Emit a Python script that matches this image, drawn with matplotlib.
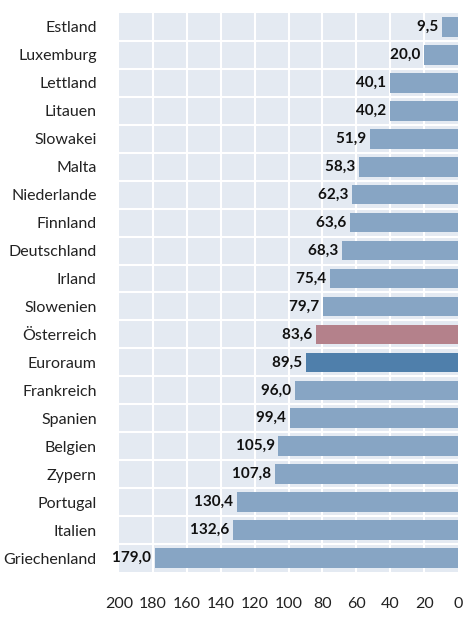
import matplotlib
matplotlib.use("Agg")
import matplotlib.pyplot as plt
import numpy as np

countries = ["Estland", "Luxemburg", "Lettland", "Litauen", "Slowakei", "Malta",
             "Niederlande", "Finnland", "Deutschland", "Irland", "Slowenien",
             "Österreich", "Euroraum", "Frankreich", "Spanien", "Belgien",
             "Zypern", "Portugal", "Italien", "Griechenland"]
values = [9.5, 20.0, 40.1, 40.2, 51.9, 58.3, 62.3, 63.6, 68.3, 75.4, 79.7,
          83.6, 89.5, 96.0, 99.4, 105.9, 107.8, 130.4, 132.6, 179.0]
xticks = [200, 180, 160, 140, 120, 100, 80, 60, 40, 20, 0]

base_color = "#87A5C4"
special = {"Österreich": "#B4818B", "Euroraum": "#4F7FAB"}
colors = [special.get(c, base_color) for c in countries]

plt.rcParams['font.family'] = ['Lato', 'DejaVu Sans']

fig = plt.figure(figsize=(4.63, 6.30), dpi=100)
ax = fig.add_axes([119/463, 1 - 572/630, (458-119)/463, (572-13)/630])

y = np.arange(len(countries))
ax.barh(y, values, height=0.7, color=colors, zorder=3)
ax.set_xlim(200, 0)
ax.set_ylim(len(countries) - 0.5, -0.5)
ax.set_facecolor("#E4EAF2")

for s in ax.spines.values():
    s.set_visible(False)

ax.set_xticks(xticks)
ax.set_xticklabels([str(t) for t in xticks], fontsize=11.5, color="#222222")
ax.set_yticks(y)
ax.set_yticklabels(countries, fontsize=11.5, color="#222222")
ax.tick_params(length=0)
ax.tick_params(axis='y', pad=16)
ax.tick_params(axis='x', pad=18)

for xv in xticks[1:-1]:
    ax.axvline(xv, color="white", lw=1.5, zorder=1)
for yv in np.arange(0.5, len(countries) - 0.5, 1):
    ax.axhline(yv, color="white", lw=1.5, zorder=1)

for yi, v in zip(y, values):
    ax.text(v, yi, f"{v:.1f}".replace(".", ",") + " ", ha="right", va="center",
            fontsize=11, fontweight="bold", color="#111111", zorder=4)

fig.savefig("out.png", dpi=100)
